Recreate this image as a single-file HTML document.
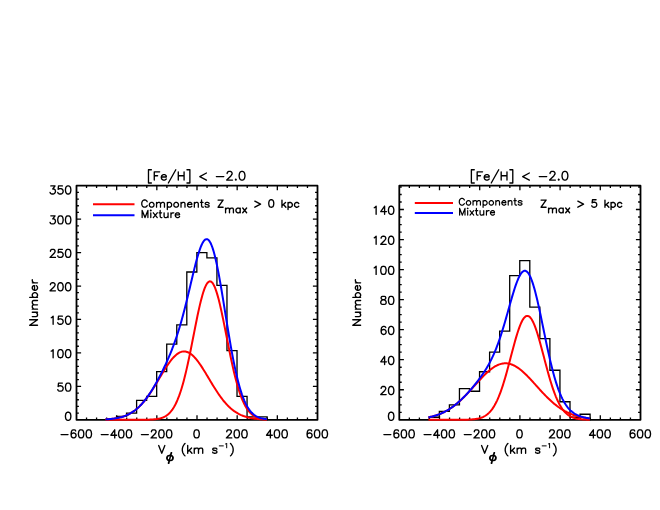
<!DOCTYPE html>
<html><head><meta charset="utf-8"><title>plot</title>
<style>html,body{margin:0;padding:0;background:#fff;font-family:"Liberation Sans",sans-serif}svg{display:block}</style>
</head><body>
<svg width="660" height="510" viewBox="0 0 660 510">
<rect width="660" height="510" fill="#fff"/>
<g fill="none" stroke="#000" stroke-linecap="round" stroke-linejoin="round">
<path d="M86.54 419.8V417.4 M86.54 185.7V188.1 M96.58 419.8V417.4 M96.58 185.7V188.1 M106.62 419.8V417.4 M106.62 185.7V188.1 M116.67 419.8V415.2 M116.67 185.7V190.3 M126.71 419.8V417.4 M126.71 185.7V188.1 M136.75 419.8V417.4 M136.75 185.7V188.1 M146.79 419.8V417.4 M146.79 185.7V188.1 M156.83 419.8V415.2 M156.83 185.7V190.3 M166.88 419.8V417.4 M166.88 185.7V188.1 M176.92 419.8V417.4 M176.92 185.7V188.1 M186.96 419.8V417.4 M186.96 185.7V188.1 M197 419.8V415.2 M197 185.7V190.3 M207.04 419.8V417.4 M207.04 185.7V188.1 M217.08 419.8V417.4 M217.08 185.7V188.1 M227.12 419.8V417.4 M227.12 185.7V188.1 M237.17 419.8V415.2 M237.17 185.7V190.3 M247.21 419.8V417.4 M247.21 185.7V188.1 M257.25 419.8V417.4 M257.25 185.7V188.1 M267.29 419.8V417.4 M267.29 185.7V188.1 M277.33 419.8V415.2 M277.33 185.7V190.3 M287.38 419.8V417.4 M287.38 185.7V188.1 M297.42 419.8V417.4 M297.42 185.7V188.1 M307.46 419.8V417.4 M307.46 185.7V188.1 M76.5 413.11H78.9 M317.5 413.11H315.1 M76.5 406.42H78.9 M317.5 406.42H315.1 M76.5 399.73H78.9 M317.5 399.73H315.1 M76.5 393.05H78.9 M317.5 393.05H315.1 M76.5 386.36H81.1 M317.5 386.36H312.9 M76.5 379.67H78.9 M317.5 379.67H315.1 M76.5 372.98H78.9 M317.5 372.98H315.1 M76.5 366.29H78.9 M317.5 366.29H315.1 M76.5 359.6H78.9 M317.5 359.6H315.1 M76.5 352.91H81.1 M317.5 352.91H312.9 M76.5 346.23H78.9 M317.5 346.23H315.1 M76.5 339.54H78.9 M317.5 339.54H315.1 M76.5 332.85H78.9 M317.5 332.85H315.1 M76.5 326.16H78.9 M317.5 326.16H315.1 M76.5 319.47H81.1 M317.5 319.47H312.9 M76.5 312.78H78.9 M317.5 312.78H315.1 M76.5 306.09H78.9 M317.5 306.09H315.1 M76.5 299.41H78.9 M317.5 299.41H315.1 M76.5 292.72H78.9 M317.5 292.72H315.1 M76.5 286.03H81.1 M317.5 286.03H312.9 M76.5 279.34H78.9 M317.5 279.34H315.1 M76.5 272.65H78.9 M317.5 272.65H315.1 M76.5 265.96H78.9 M317.5 265.96H315.1 M76.5 259.27H78.9 M317.5 259.27H315.1 M76.5 252.59H81.1 M317.5 252.59H312.9 M76.5 245.9H78.9 M317.5 245.9H315.1 M76.5 239.21H78.9 M317.5 239.21H315.1 M76.5 232.52H78.9 M317.5 232.52H315.1 M76.5 225.83H78.9 M317.5 225.83H315.1 M76.5 219.14H81.1 M317.5 219.14H312.9 M76.5 212.45H78.9 M317.5 212.45H315.1 M76.5 205.77H78.9 M317.5 205.77H315.1 M76.5 199.08H78.9 M317.5 199.08H315.1 M76.5 192.39H78.9 M317.5 192.39H315.1" stroke-width="1.3" stroke-linecap="butt"/>
<rect x="76.5" y="185.7" width="241" height="234.1" stroke-width="1.8"/>
<path d="M106.47 419.8 L106.47 419.13 L116.52 419.13 L116.52 416.46 L126.56 416.46 L126.56 413.11 L136.6 413.11 L136.6 400.4 L146.64 400.4 L146.64 396.39 L156.68 396.39 L156.68 371.64 L166.72 371.64 L166.72 344.22 L176.77 344.22 L176.77 324.82 L186.81 324.82 L186.81 271.98 L196.85 271.98 L196.85 252.59 L206.89 252.59 L206.89 257.94 L216.93 257.94 L216.93 285.36 L226.97 285.36 L226.97 350.57 L237.02 350.57 L237.02 396.39 L247.06 396.39 L247.06 416.79 L257.1 416.79 L257.1 416.79 L267.14 416.79 L267.14 419.8" stroke-width="1.3" stroke-linejoin="miter"/>
<path d="M105.62 419.36 L106.43 419.31 L107.23 419.26 L108.04 419.2 L108.85 419.14 L109.65 419.07 L110.46 418.99 L111.27 418.91 L112.07 418.82 L112.88 418.72 L113.68 418.62 L114.49 418.5 L115.3 418.38 L116.1 418.24 L116.91 418.1 L117.72 417.94 L118.52 417.77 L119.33 417.59 L120.14 417.39 L120.94 417.18 L121.75 416.96 L122.55 416.72 L123.36 416.46 L124.17 416.18 L124.97 415.88 L125.78 415.57 L126.59 415.23 L127.39 414.87 L128.2 414.49 L129 414.09 L129.81 413.66 L130.62 413.21 L131.42 412.73 L132.23 412.23 L133.04 411.69 L133.84 411.13 L134.65 410.54 L135.46 409.92 L136.26 409.27 L137.07 408.59 L137.87 407.88 L138.68 407.14 L139.49 406.37 L140.29 405.56 L141.1 404.72 L141.91 403.85 L142.71 402.94 L143.52 402 L144.33 401.04 L145.13 400.03 L145.94 399 L146.74 397.94 L147.55 396.85 L148.36 395.73 L149.16 394.58 L149.97 393.4 L150.78 392.2 L151.58 390.98 L152.39 389.73 L153.2 388.46 L154 387.17 L154.81 385.87 L155.61 384.55 L156.42 383.22 L157.23 381.88 L158.03 380.54 L158.84 379.19 L159.65 377.83 L160.45 376.48 L161.26 375.13 L162.07 373.79 L162.87 372.46 L163.68 371.14 L164.48 369.84 L165.29 368.56 L166.1 367.3 L166.9 366.07 L167.71 364.87 L168.52 363.7 L169.32 362.57 L170.13 361.48 L170.93 360.42 L171.74 359.42 L172.55 358.46 L173.35 357.56 L174.16 356.7 L174.97 355.91 L175.77 355.17 L176.58 354.5 L177.39 353.88 L178.19 353.34 L179 352.86 L179.8 352.44 L180.61 352.1 L181.42 351.83 L182.22 351.63 L183.03 351.5 L183.84 351.45 L184.64 351.46 L185.45 351.55 L186.26 351.72 L187.06 351.95 L187.87 352.26 L188.67 352.63 L189.48 353.08 L190.29 353.59 L191.09 354.17 L191.9 354.81 L192.71 355.52 L193.51 356.28 L194.32 357.11 L195.13 357.98 L195.93 358.91 L196.74 359.89 L197.54 360.92 L198.35 361.99 L199.16 363.11 L199.96 364.26 L200.77 365.44 L201.58 366.66 L202.38 367.9 L203.19 369.17 L204 370.46 L204.8 371.77 L205.61 373.1 L206.41 374.43 L207.22 375.78 L208.03 377.13 L208.83 378.48 L209.64 379.83 L210.45 381.18 L211.25 382.53 L212.06 383.86 L212.86 385.19 L213.67 386.5 L214.48 387.79 L215.28 389.07 L216.09 390.33 L216.9 391.57 L217.7 392.78 L218.51 393.97 L219.32 395.13 L220.12 396.27 L220.93 397.38 L221.73 398.45 L222.54 399.5 L223.35 400.52 L224.15 401.5 L224.96 402.46 L225.77 403.38 L226.57 404.27 L227.38 405.12 L228.19 405.95 L228.99 406.74 L229.8 407.5 L230.6 408.23 L231.41 408.92 L232.22 409.59 L233.02 410.22 L233.83 410.83 L234.64 411.4 L235.44 411.95 L236.25 412.47 L237.06 412.96 L237.86 413.43 L238.67 413.87 L239.47 414.29 L240.28 414.68 L241.09 415.05 L241.89 415.39 L242.7 415.72 L243.51 416.03 L244.31 416.31 L245.12 416.58 L245.93 416.83 L246.73 417.07 L247.54 417.29 L248.34 417.49 L249.15 417.68 L249.96 417.86 L250.76 418.02 L251.57 418.17 L252.38 418.31 L253.18 418.44 L253.99 418.56 L254.79 418.67 L255.6 418.77 L256.41 418.86 L257.21 418.95 L258.02 419.03 L258.83 419.1 L259.63 419.17 L260.44 419.23 L261.25 419.28 L262.05 419.33 L262.86 419.38 L263.66 419.42 L264.47 419.46 L265.28 419.49 L266.08 419.52 L266.89 419.55" stroke="#f00" stroke-width="2" stroke-linecap="butt"/>
<path d="M105.62 419.8 L106.43 419.8 L107.23 419.8 L108.04 419.8 L108.85 419.8 L109.65 419.8 L110.46 419.8 L111.27 419.8 L112.07 419.8 L112.88 419.8 L113.68 419.8 L114.49 419.8 L115.3 419.8 L116.1 419.8 L116.91 419.8 L117.72 419.8 L118.52 419.8 L119.33 419.8 L120.14 419.8 L120.94 419.8 L121.75 419.8 L122.55 419.8 L123.36 419.8 L124.17 419.8 L124.97 419.8 L125.78 419.8 L126.59 419.8 L127.39 419.8 L128.2 419.8 L129 419.8 L129.81 419.8 L130.62 419.8 L131.42 419.8 L132.23 419.8 L133.04 419.8 L133.84 419.8 L134.65 419.8 L135.46 419.8 L136.26 419.79 L137.07 419.79 L137.87 419.79 L138.68 419.79 L139.49 419.79 L140.29 419.78 L141.1 419.78 L141.91 419.77 L142.71 419.77 L143.52 419.76 L144.33 419.75 L145.13 419.74 L145.94 419.73 L146.74 419.71 L147.55 419.69 L148.36 419.67 L149.16 419.65 L149.97 419.62 L150.78 419.58 L151.58 419.54 L152.39 419.49 L153.2 419.44 L154 419.37 L154.81 419.29 L155.61 419.2 L156.42 419.1 L157.23 418.98 L158.03 418.84 L158.84 418.68 L159.65 418.5 L160.45 418.29 L161.26 418.05 L162.07 417.78 L162.87 417.48 L163.68 417.13 L164.48 416.74 L165.29 416.3 L166.1 415.81 L166.9 415.26 L167.71 414.64 L168.52 413.96 L169.32 413.2 L170.13 412.36 L170.93 411.44 L171.74 410.42 L172.55 409.3 L173.35 408.08 L174.16 406.75 L174.97 405.31 L175.77 403.74 L176.58 402.04 L177.39 400.21 L178.19 398.24 L179 396.14 L179.8 393.89 L180.61 391.49 L181.42 388.95 L182.22 386.26 L183.03 383.42 L183.84 380.43 L184.64 377.3 L185.45 374.04 L186.26 370.64 L187.06 367.11 L187.87 363.47 L188.67 359.72 L189.48 355.87 L190.29 351.94 L191.09 347.94 L191.9 343.88 L192.71 339.79 L193.51 335.69 L194.32 331.58 L195.13 327.49 L195.93 323.45 L196.74 319.46 L197.54 315.57 L198.35 311.78 L199.16 308.12 L199.96 304.62 L200.77 301.29 L201.58 298.15 L202.38 295.23 L203.19 292.55 L204 290.12 L204.8 287.96 L205.61 286.08 L206.41 284.51 L207.22 283.24 L208.03 282.29 L208.83 281.67 L209.64 281.37 L210.45 281.41 L211.25 281.78 L212.06 282.47 L212.86 283.49 L213.67 284.83 L214.48 286.47 L215.28 288.41 L216.09 290.63 L216.9 293.12 L217.7 295.86 L218.51 298.82 L219.32 302 L220.12 305.38 L220.93 308.92 L221.73 312.6 L222.54 316.42 L223.35 320.33 L224.15 324.33 L224.96 328.39 L225.77 332.48 L226.57 336.59 L227.38 340.7 L228.19 344.78 L228.99 348.83 L229.8 352.81 L230.6 356.73 L231.41 360.55 L232.22 364.28 L233.02 367.9 L233.83 371.4 L234.64 374.77 L235.44 378 L236.25 381.1 L237.06 384.05 L237.86 386.86 L238.67 389.52 L239.47 392.03 L240.28 394.4 L241.09 396.61 L241.89 398.69 L242.7 400.62 L243.51 402.42 L244.31 404.09 L245.12 405.64 L245.93 407.06 L246.73 408.36 L247.54 409.56 L248.34 410.65 L249.15 411.65 L249.96 412.56 L250.76 413.38 L251.57 414.12 L252.38 414.78 L253.18 415.38 L253.99 415.92 L254.79 416.4 L255.6 416.83 L256.41 417.21 L257.21 417.55 L258.02 417.84 L258.83 418.11 L259.63 418.34 L260.44 418.54 L261.25 418.72 L262.05 418.87 L262.86 419.01 L263.66 419.12 L264.47 419.22 L265.28 419.31 L266.08 419.38 L266.89 419.45" stroke="#f00" stroke-width="2" stroke-linecap="butt"/>
<path d="M105.62 419.36 L106.43 419.31 L107.23 419.26 L108.04 419.2 L108.85 419.14 L109.65 419.07 L110.46 418.99 L111.27 418.91 L112.07 418.82 L112.88 418.72 L113.68 418.62 L114.49 418.5 L115.3 418.38 L116.1 418.24 L116.91 418.1 L117.72 417.94 L118.52 417.77 L119.33 417.59 L120.14 417.39 L120.94 417.18 L121.75 416.96 L122.55 416.72 L123.36 416.46 L124.17 416.18 L124.97 415.88 L125.78 415.57 L126.59 415.23 L127.39 414.87 L128.2 414.49 L129 414.09 L129.81 413.66 L130.62 413.21 L131.42 412.73 L132.23 412.22 L133.04 411.69 L133.84 411.13 L134.65 410.54 L135.46 409.92 L136.26 409.27 L137.07 408.59 L137.87 407.87 L138.68 407.13 L139.49 406.35 L140.29 405.54 L141.1 404.7 L141.91 403.82 L142.71 402.91 L143.52 401.96 L144.33 400.99 L145.13 399.97 L145.94 398.93 L146.74 397.85 L147.55 396.74 L148.36 395.6 L149.16 394.43 L149.97 393.22 L150.78 391.98 L151.58 390.72 L152.39 389.42 L153.2 388.1 L154 386.74 L154.81 385.36 L155.61 383.95 L156.42 382.52 L157.23 381.06 L158.03 379.58 L158.84 378.06 L159.65 376.53 L160.45 374.97 L161.26 373.38 L162.07 371.77 L162.87 370.14 L163.68 368.47 L164.48 366.78 L165.29 365.06 L166.1 363.31 L166.9 361.53 L167.71 359.71 L168.52 357.86 L169.32 355.97 L170.13 354.04 L170.93 352.06 L171.74 350.04 L172.55 347.97 L173.35 345.84 L174.16 343.66 L174.97 341.41 L175.77 339.11 L176.58 336.73 L177.39 334.29 L178.19 331.78 L179 329.19 L179.8 326.53 L180.61 323.79 L181.42 320.98 L182.22 318.08 L183.03 315.12 L183.84 312.08 L184.64 308.97 L185.45 305.79 L186.26 302.55 L187.06 299.26 L187.87 295.92 L188.67 292.55 L189.48 289.15 L190.29 285.73 L191.09 282.31 L191.9 278.9 L192.71 275.51 L193.51 272.17 L194.32 268.88 L195.13 265.67 L195.93 262.56 L196.74 259.56 L197.54 256.69 L198.35 253.97 L199.16 251.43 L199.96 249.07 L200.77 246.93 L201.58 245.01 L202.38 243.34 L203.19 241.92 L204 240.78 L204.8 239.93 L205.61 239.38 L206.41 239.14 L207.22 239.22 L208.03 239.62 L208.83 240.35 L209.64 241.41 L210.45 242.79 L211.25 244.5 L212.06 246.54 L212.86 248.88 L213.67 251.53 L214.48 254.47 L215.28 257.68 L216.09 261.16 L216.9 264.89 L217.7 268.84 L218.51 272.99 L219.32 277.34 L220.12 281.84 L220.93 286.49 L221.73 291.26 L222.54 296.12 L223.35 301.05 L224.15 306.04 L224.96 311.05 L225.77 316.06 L226.57 321.06 L227.38 326.02 L228.19 330.93 L228.99 335.77 L229.8 340.51 L230.6 345.15 L231.41 349.68 L232.22 354.07 L233.02 358.32 L233.83 362.43 L234.64 366.37 L235.44 370.16 L236.25 373.77 L237.06 377.22 L237.86 380.49 L238.67 383.59 L239.47 386.52 L240.28 389.27 L241.09 391.86 L241.89 394.28 L242.7 396.55 L243.51 398.65 L244.31 400.61 L245.12 402.42 L245.93 404.09 L246.73 405.63 L247.54 407.05 L248.34 408.34 L249.15 409.53 L249.96 410.61 L250.76 411.59 L251.57 412.49 L252.38 413.29 L253.18 414.02 L253.99 414.68 L254.79 415.27 L255.6 415.8 L256.41 416.27 L257.21 416.7 L258.02 417.07 L258.83 417.41 L259.63 417.7 L260.44 417.97 L261.25 418.2 L262.05 418.4 L262.86 418.58 L263.66 418.74 L264.47 418.88 L265.28 419 L266.08 419.11 L266.89 419.2" stroke="#00f" stroke-width="2" stroke-linecap="butt"/>
<path d="M61.08 434.61 L68.02 434.61 M75.71 430.97 L75.33 430.2 L74.17 429.81 L73.4 429.81 L72.25 430.2 L71.48 431.35 L71.09 433.28 L71.09 435.2 L71.48 436.75 L72.25 437.51 L73.4 437.9 L73.79 437.9 L74.94 437.51 L75.71 436.75 L76.1 435.59 L76.1 435.2 L75.71 434.05 L74.94 433.28 L73.79 432.89 L73.4 432.89 L72.25 433.28 L71.48 434.05 L71.09 435.2 M80.72 429.81 L79.56 430.2 L78.8 431.35 L78.41 433.28 L78.41 434.44 L78.8 436.36 L79.56 437.51 L80.72 437.9 L81.49 437.9 L82.64 437.51 L83.41 436.36 L83.8 434.44 L83.8 433.28 L83.41 431.35 L82.64 430.2 L81.49 429.81 L80.72 429.81 M88.42 429.81 L87.27 430.2 L86.5 431.35 L86.11 433.28 L86.11 434.44 L86.5 436.36 L87.27 437.51 L88.42 437.9 L89.19 437.9 L90.34 437.51 L91.11 436.36 L91.5 434.44 L91.5 433.28 L91.11 431.35 L90.34 430.2 L89.19 429.81 L88.42 429.81" stroke-width="1.35"/>
<path d="M101.25 434.61 L108.18 434.61 M114.73 429.81 L110.88 435.2 L116.65 435.2 M114.73 429.81 L114.73 437.9 M120.89 429.81 L119.73 430.2 L118.96 431.35 L118.58 433.28 L118.58 434.44 L118.96 436.36 L119.73 437.51 L120.89 437.9 L121.66 437.9 L122.81 437.51 L123.58 436.36 L123.97 434.44 L123.97 433.28 L123.58 431.35 L122.81 430.2 L121.66 429.81 L120.89 429.81 M128.59 429.81 L127.43 430.2 L126.66 431.35 L126.28 433.28 L126.28 434.44 L126.66 436.36 L127.43 437.51 L128.59 437.9 L129.36 437.9 L130.51 437.51 L131.28 436.36 L131.67 434.44 L131.67 433.28 L131.28 431.35 L130.51 430.2 L129.36 429.81 L128.59 429.81" stroke-width="1.35"/>
<path d="M141.42 434.61 L148.35 434.61 M151.43 431.74 L151.43 431.35 L151.81 430.58 L152.2 430.2 L152.97 429.81 L154.51 429.81 L155.28 430.2 L155.66 430.58 L156.05 431.35 L156.05 432.12 L155.66 432.89 L154.89 434.05 L151.04 437.9 L156.43 437.9 M161.05 429.81 L159.9 430.2 L159.13 431.35 L158.74 433.28 L158.74 434.44 L159.13 436.36 L159.9 437.51 L161.05 437.9 L161.82 437.9 L162.98 437.51 L163.75 436.36 L164.13 434.44 L164.13 433.28 L163.75 431.35 L162.98 430.2 L161.82 429.81 L161.05 429.81 M168.75 429.81 L167.6 430.2 L166.83 431.35 L166.44 433.28 L166.44 434.44 L166.83 436.36 L167.6 437.51 L168.75 437.9 L169.52 437.9 L170.68 437.51 L171.45 436.36 L171.83 434.44 L171.83 433.28 L171.45 431.35 L170.68 430.2 L169.52 429.81 L168.75 429.81" stroke-width="1.35"/>
<path d="M196.22 429.81 L195.06 430.2 L194.29 431.35 L193.91 433.28 L193.91 434.44 L194.29 436.36 L195.06 437.51 L196.22 437.9 L196.99 437.9 L198.14 437.51 L198.91 436.36 L199.29 434.44 L199.29 433.28 L198.91 431.35 L198.14 430.2 L196.99 429.81 L196.22 429.81" stroke-width="1.35"/>
<path d="M226.76 431.74 L226.76 431.35 L227.14 430.58 L227.53 430.2 L228.3 429.81 L229.84 429.81 L230.61 430.2 L230.99 430.58 L231.38 431.35 L231.38 432.12 L230.99 432.89 L230.22 434.05 L226.37 437.9 L231.76 437.9 M236.38 429.81 L235.23 430.2 L234.46 431.35 L234.07 433.28 L234.07 434.44 L234.46 436.36 L235.23 437.51 L236.38 437.9 L237.15 437.9 L238.31 437.51 L239.08 436.36 L239.46 434.44 L239.46 433.28 L239.08 431.35 L238.31 430.2 L237.15 429.81 L236.38 429.81 M244.08 429.81 L242.93 430.2 L242.16 431.35 L241.77 433.28 L241.77 434.44 L242.16 436.36 L242.93 437.51 L244.08 437.9 L244.85 437.9 L246.01 437.51 L246.78 436.36 L247.16 434.44 L247.16 433.28 L246.78 431.35 L246.01 430.2 L244.85 429.81 L244.08 429.81" stroke-width="1.35"/>
<path d="M270.39 429.81 L266.54 435.2 L272.31 435.2 M270.39 429.81 L270.39 437.9 M276.55 429.81 L275.39 430.2 L274.62 431.35 L274.24 433.28 L274.24 434.44 L274.62 436.36 L275.39 437.51 L276.55 437.9 L277.32 437.9 L278.47 437.51 L279.24 436.36 L279.63 434.44 L279.63 433.28 L279.24 431.35 L278.47 430.2 L277.32 429.81 L276.55 429.81 M284.25 429.81 L283.09 430.2 L282.32 431.35 L281.94 433.28 L281.94 434.44 L282.32 436.36 L283.09 437.51 L284.25 437.9 L285.02 437.9 L286.17 437.51 L286.94 436.36 L287.33 434.44 L287.33 433.28 L286.94 431.35 L286.17 430.2 L285.02 429.81 L284.25 429.81" stroke-width="1.35"/>
<path d="M311.71 430.97 L311.32 430.2 L310.17 429.81 L309.4 429.81 L308.25 430.2 L307.48 431.35 L307.09 433.28 L307.09 435.2 L307.48 436.75 L308.25 437.51 L309.4 437.9 L309.79 437.9 L310.94 437.51 L311.71 436.75 L312.1 435.59 L312.1 435.2 L311.71 434.05 L310.94 433.28 L309.79 432.89 L309.4 432.89 L308.25 433.28 L307.48 434.05 L307.09 435.2 M316.71 429.81 L315.56 430.2 L314.79 431.35 L314.4 433.28 L314.4 434.44 L314.79 436.36 L315.56 437.51 L316.71 437.9 L317.49 437.9 L318.64 437.51 L319.41 436.36 L319.8 434.44 L319.8 433.28 L319.41 431.35 L318.64 430.2 L317.49 429.81 L316.71 429.81 M324.41 429.81 L323.26 430.2 L322.49 431.35 L322.1 433.28 L322.1 434.44 L322.49 436.36 L323.26 437.51 L324.41 437.9 L325.19 437.9 L326.34 437.51 L327.11 436.36 L327.5 434.44 L327.5 433.28 L327.11 431.35 L326.34 430.2 L325.19 429.81 L324.41 429.81" stroke-width="1.35"/>
<path d="M67.77 412.22 L66.61 412.6 L65.84 413.75 L65.45 415.68 L65.45 416.84 L65.84 418.76 L66.61 419.92 L67.77 420.3 L68.53 420.3 L69.69 419.92 L70.46 418.76 L70.84 416.84 L70.84 415.68 L70.46 413.75 L69.69 412.6 L68.53 412.22 L67.77 412.22" stroke-width="1.35"/>
<path d="M62.38 383.07 L58.52 383.07 L58.14 386.54 L58.52 386.15 L59.68 385.77 L60.84 385.77 L61.99 386.15 L62.76 386.92 L63.15 388.08 L63.15 388.85 L62.76 390 L61.99 390.77 L60.84 391.16 L59.68 391.16 L58.52 390.77 L58.14 390.39 L57.76 389.62 M67.77 383.07 L66.61 383.46 L65.84 384.61 L65.45 386.54 L65.45 387.69 L65.84 389.62 L66.61 390.77 L67.77 391.16 L68.53 391.16 L69.69 390.77 L70.46 389.62 L70.84 387.69 L70.84 386.54 L70.46 384.61 L69.69 383.46 L68.53 383.07 L67.77 383.07" stroke-width="1.35"/>
<path d="M51.21 351.17 L51.98 350.78 L53.13 349.63 L53.13 357.71 M60.06 349.63 L58.91 350.01 L58.14 351.17 L57.76 353.09 L57.76 354.25 L58.14 356.17 L58.91 357.33 L60.06 357.71 L60.84 357.71 L61.99 357.33 L62.76 356.17 L63.15 354.25 L63.15 353.09 L62.76 351.17 L61.99 350.01 L60.84 349.63 L60.06 349.63 M67.77 349.63 L66.61 350.01 L65.84 351.17 L65.45 353.09 L65.45 354.25 L65.84 356.17 L66.61 357.33 L67.77 357.71 L68.53 357.71 L69.69 357.33 L70.46 356.17 L70.84 354.25 L70.84 353.09 L70.46 351.17 L69.69 350.01 L68.53 349.63 L67.77 349.63" stroke-width="1.35"/>
<path d="M51.21 317.73 L51.98 317.34 L53.13 316.19 L53.13 324.27 M62.38 316.19 L58.52 316.19 L58.14 319.65 L58.52 319.27 L59.68 318.88 L60.84 318.88 L61.99 319.27 L62.76 320.04 L63.15 321.19 L63.15 321.96 L62.76 323.12 L61.99 323.89 L60.84 324.27 L59.68 324.27 L58.52 323.89 L58.14 323.5 L57.76 322.73 M67.77 316.19 L66.61 316.57 L65.84 317.73 L65.45 319.65 L65.45 320.81 L65.84 322.73 L66.61 323.89 L67.77 324.27 L68.53 324.27 L69.69 323.89 L70.46 322.73 L70.84 320.81 L70.84 319.65 L70.46 317.73 L69.69 316.57 L68.53 316.19 L67.77 316.19" stroke-width="1.35"/>
<path d="M50.44 284.67 L50.44 284.28 L50.82 283.51 L51.21 283.13 L51.98 282.74 L53.52 282.74 L54.29 283.13 L54.67 283.51 L55.06 284.28 L55.06 285.05 L54.67 285.82 L53.91 286.98 L50.05 290.83 L55.45 290.83 M60.06 282.74 L58.91 283.13 L58.14 284.28 L57.76 286.21 L57.76 287.36 L58.14 289.29 L58.91 290.44 L60.06 290.83 L60.84 290.83 L61.99 290.44 L62.76 289.29 L63.15 287.36 L63.15 286.21 L62.76 284.28 L61.99 283.13 L60.84 282.74 L60.06 282.74 M67.77 282.74 L66.61 283.13 L65.84 284.28 L65.45 286.21 L65.45 287.36 L65.84 289.29 L66.61 290.44 L67.77 290.83 L68.53 290.83 L69.69 290.44 L70.46 289.29 L70.84 287.36 L70.84 286.21 L70.46 284.28 L69.69 283.13 L68.53 282.74 L67.77 282.74" stroke-width="1.35"/>
<path d="M50.44 251.23 L50.44 250.84 L50.82 250.07 L51.21 249.69 L51.98 249.3 L53.52 249.3 L54.29 249.69 L54.67 250.07 L55.06 250.84 L55.06 251.61 L54.67 252.38 L53.91 253.54 L50.05 257.39 L55.45 257.39 M62.38 249.3 L58.52 249.3 L58.14 252.77 L58.52 252.38 L59.68 252 L60.84 252 L61.99 252.38 L62.76 253.15 L63.15 254.31 L63.15 255.08 L62.76 256.23 L61.99 257 L60.84 257.39 L59.68 257.39 L58.52 257 L58.14 256.62 L57.76 255.85 M67.77 249.3 L66.61 249.69 L65.84 250.84 L65.45 252.77 L65.45 253.92 L65.84 255.85 L66.61 257 L67.77 257.39 L68.53 257.39 L69.69 257 L70.46 255.85 L70.84 253.92 L70.84 252.77 L70.46 250.84 L69.69 249.69 L68.53 249.3 L67.77 249.3" stroke-width="1.35"/>
<path d="M50.82 215.86 L55.06 215.86 L52.75 218.94 L53.91 218.94 L54.67 219.32 L55.06 219.71 L55.45 220.86 L55.45 221.63 L55.06 222.79 L54.29 223.56 L53.13 223.94 L51.98 223.94 L50.82 223.56 L50.44 223.17 L50.05 222.4 M60.06 215.86 L58.91 216.24 L58.14 217.4 L57.76 219.32 L57.76 220.48 L58.14 222.4 L58.91 223.56 L60.06 223.94 L60.84 223.94 L61.99 223.56 L62.76 222.4 L63.15 220.48 L63.15 219.32 L62.76 217.4 L61.99 216.24 L60.84 215.86 L60.06 215.86 M67.77 215.86 L66.61 216.24 L65.84 217.4 L65.45 219.32 L65.45 220.48 L65.84 222.4 L66.61 223.56 L67.77 223.94 L68.53 223.94 L69.69 223.56 L70.46 222.4 L70.84 220.48 L70.84 219.32 L70.46 217.4 L69.69 216.24 L68.53 215.86 L67.77 215.86" stroke-width="1.35"/>
<path d="M50.82 185.91 L55.06 185.91 L52.75 189 L53.91 189 L54.67 189.38 L55.06 189.76 L55.45 190.92 L55.45 191.69 L55.06 192.84 L54.29 193.62 L53.13 194 L51.98 194 L50.82 193.62 L50.44 193.23 L50.05 192.46 M62.38 185.91 L58.52 185.91 L58.14 189.38 L58.52 189 L59.68 188.61 L60.84 188.61 L61.99 189 L62.76 189.76 L63.15 190.92 L63.15 191.69 L62.76 192.84 L61.99 193.62 L60.84 194 L59.68 194 L58.52 193.62 L58.14 193.23 L57.76 192.46 M67.77 185.91 L66.61 186.3 L65.84 187.46 L65.45 189.38 L65.45 190.53 L65.84 192.46 L66.61 193.62 L67.77 194 L68.53 194 L69.69 193.62 L70.46 192.46 L70.84 190.53 L70.84 189.38 L70.46 187.46 L69.69 186.3 L68.53 185.91 L67.77 185.91" stroke-width="1.35"/>
<path d="M148.48 169.75 L148.48 183 M148.48 169.75 L151.37 169.75 M148.48 183 L151.37 183 M154.27 171.84 L154.27 180.1 M154.27 171.84 L159.65 171.84 M154.27 175.77 L157.58 175.77 M161.31 176.95 L166.28 176.95 L166.28 176.17 L165.86 175.38 L165.45 174.99 L164.62 174.59 L163.38 174.59 L162.55 174.99 L161.72 175.77 L161.31 176.95 L161.31 177.74 L161.72 178.92 L162.55 179.71 L163.38 180.1 L164.62 180.1 L165.45 179.71 L166.28 178.92 M175.8 169.75 L168.35 183 M178.28 171.84 L178.28 180.1 M184.08 171.84 L184.08 180.1 M178.28 175.77 L184.08 175.77 M189.88 169.75 L189.88 183 M186.98 169.75 L189.88 169.75 M186.98 183 L189.88 183 M206.44 173.02 L199.81 176.56 L206.44 180.1 M216.37 176.56 L223.82 176.56 M227.14 173.48 L227.14 173.06 L227.55 172.23 L227.96 171.82 L228.79 171.41 L230.45 171.41 L231.28 171.82 L231.69 172.23 L232.1 173.06 L232.1 173.89 L231.69 174.72 L230.86 175.96 L226.72 180.1 L232.52 180.1 M235.83 179.31 L235.42 179.71 L235.83 180.1 L236.24 179.71 L235.83 179.31 M241.63 171.41 L240.38 171.82 L239.56 173.06 L239.14 175.13 L239.14 176.37 L239.56 178.44 L240.38 179.69 L241.63 180.1 L242.45 180.1 L243.7 179.69 L244.52 178.44 L244.94 176.37 L244.94 175.13 L244.52 173.06 L243.7 171.82 L242.45 171.41 L241.63 171.41" stroke-width="1.35"/>
<path d="M29.68 325.2 L37.5 325.2 M29.68 325.2 L37.5 319.71 M29.68 319.71 L37.5 319.71 M32.29 316.57 L36.01 316.57 L37.13 316.18 L37.5 315.4 L37.5 314.22 L37.13 313.44 L36.01 312.26 M32.29 312.26 L37.5 312.26 M32.29 309.13 L37.5 309.13 M33.78 309.13 L32.66 307.95 L32.29 307.17 L32.29 305.99 L32.66 305.21 L33.78 304.81 L37.5 304.81 M33.78 304.81 L32.66 303.64 L32.29 302.85 L32.29 301.68 L32.66 300.89 L33.78 300.5 L37.5 300.5 M29.68 297.37 L37.5 297.37 M33.4 297.37 L32.66 296.58 L32.29 295.8 L32.29 294.62 L32.66 293.84 L33.4 293.05 L34.52 292.66 L35.27 292.66 L36.38 293.05 L37.13 293.84 L37.5 294.62 L37.5 295.8 L37.13 296.58 L36.38 297.37 M34.52 290.31 L34.52 285.61 L33.78 285.61 L33.03 286 L32.66 286.39 L32.29 287.17 L32.29 288.35 L32.66 289.13 L33.4 289.92 L34.52 290.31 L35.27 290.31 L36.38 289.92 L37.13 289.13 L37.5 288.35 L37.5 287.17 L37.13 286.39 L36.38 285.61 M32.29 282.86 L37.5 282.86 M34.52 282.86 L33.4 282.47 L32.66 281.69 L32.29 280.9 L32.29 279.73" stroke-width="1.35"/>
<path d="M158.69 445.52 L161.77 453.2 M164.84 445.52 L161.77 453.2" stroke-width="1.35"/>
<path d="M171.16 452.72 L168.79 463.23 M171.56 452.72 L168.4 463.23 M169.58 455.35 L168 455.72 L167.21 456.47 L166.82 457.6 L166.82 458.72 L167.21 459.47 L168 460.22 L169.19 460.6 L170.37 460.6 L171.95 460.22 L172.74 459.47 L173.14 458.35 L173.14 457.22 L172.74 456.47 L171.95 455.72 L170.77 455.35 L169.58 455.35 M169.58 455.35 L168.4 455.72 L167.61 456.47 L167.21 457.6 L167.21 458.72 L167.61 459.47 L168.4 460.22 L169.19 460.6 M170.37 460.6 L171.56 460.22 L172.35 459.47 L172.74 458.35 L172.74 457.22 L172.35 456.47 L171.56 455.72 L170.77 455.35" stroke-width="1.45"/>
<path d="M185.02 443.57 L184.25 444.34 L183.48 445.5 L182.71 447.04 L182.32 448.96 L182.32 450.5 L182.71 452.43 L183.48 453.97 L184.25 455.12 L185.02 455.89 M187.71 445.52 L187.71 453.2 M191.56 448.08 L187.71 451.74 M189.25 450.27 L191.95 453.2 M194.25 448.08 L194.25 453.2 M194.25 449.54 L195.41 448.45 L196.18 448.08 L197.34 448.08 L198.11 448.45 L198.49 449.54 L198.49 453.2 M198.49 449.54 L199.65 448.45 L200.41 448.08 L201.57 448.08 L202.34 448.45 L202.72 449.54 L202.72 453.2" stroke-width="1.35"/>
<path d="M216.92 449.18 L216.53 448.45 L215.38 448.08 L214.22 448.08 L213.07 448.45 L212.68 449.18 L213.07 449.91 L213.84 450.27 L215.76 450.64 L216.53 451.01 L216.92 451.74 L216.92 452.1 L216.53 452.83 L215.38 453.2 L214.22 453.2 L213.07 452.83 L212.68 452.1" stroke-width="1.35"/>
<path d="M219.27 445.88 L223.32 445.88 M225.57 443.98 L226.02 443.75 L226.7 443.07 L226.7 447.8" stroke-width="1"/>
<path d="M230.48 443.57 L231.25 444.34 L232.02 445.5 L232.79 447.04 L233.17 448.96 L233.17 450.5 L232.79 452.43 L232.02 453.97 L231.25 455.12 L230.48 455.89" stroke-width="1.35"/>
<path d="M93 204.3H134.5" stroke="#f00" stroke-width="2.1" stroke-linecap="butt"/>
<path d="M93 215.3H134.5" stroke="#00f" stroke-width="2.1" stroke-linecap="butt"/>
<path d="M147.18 201.73 L146.82 201.04 L146.1 200.36 L145.38 200.02 L143.94 200.02 L143.22 200.36 L142.5 201.04 L142.14 201.73 L141.78 202.75 L141.78 204.46 L142.14 205.49 L142.5 206.17 L143.22 206.86 L143.94 207.2 L145.38 207.2 L146.1 206.86 L146.82 206.17 L147.18 205.49 M151.14 202.41 L150.42 202.75 L149.7 203.44 L149.34 204.46 L149.34 205.15 L149.7 206.17 L150.42 206.86 L151.14 207.2 L152.22 207.2 L152.94 206.86 L153.66 206.17 L154.02 205.15 L154.02 204.46 L153.66 203.44 L152.94 202.75 L152.22 202.41 L151.14 202.41 M156.54 202.41 L156.54 207.2 M156.54 203.78 L157.62 202.75 L158.34 202.41 L159.42 202.41 L160.14 202.75 L160.5 203.78 L160.5 207.2 M160.5 203.78 L161.58 202.75 L162.3 202.41 L163.38 202.41 L164.1 202.75 L164.46 203.78 L164.46 207.2 M167.34 202.41 L167.34 209.59 M167.34 203.44 L168.06 202.75 L168.78 202.41 L169.86 202.41 L170.58 202.75 L171.3 203.44 L171.66 204.46 L171.66 205.15 L171.3 206.17 L170.58 206.86 L169.86 207.2 L168.78 207.2 L168.06 206.86 L167.34 206.17 M175.62 202.41 L174.9 202.75 L174.18 203.44 L173.82 204.46 L173.82 205.15 L174.18 206.17 L174.9 206.86 L175.62 207.2 L176.7 207.2 L177.42 206.86 L178.14 206.17 L178.5 205.15 L178.5 204.46 L178.14 203.44 L177.42 202.75 L176.7 202.41 L175.62 202.41 M181.02 202.41 L181.02 207.2 M181.02 203.78 L182.1 202.75 L182.82 202.41 L183.9 202.41 L184.62 202.75 L184.98 203.78 L184.98 207.2 M187.5 204.46 L191.82 204.46 L191.82 203.78 L191.46 203.1 L191.1 202.75 L190.38 202.41 L189.3 202.41 L188.58 202.75 L187.86 203.44 L187.5 204.46 L187.5 205.15 L187.86 206.17 L188.58 206.86 L189.3 207.2 L190.38 207.2 L191.1 206.86 L191.82 206.17 M194.34 202.41 L194.34 207.2 M194.34 203.78 L195.42 202.75 L196.14 202.41 L197.22 202.41 L197.94 202.75 L198.3 203.78 L198.3 207.2 M201.54 200.02 L201.54 205.83 L201.9 206.86 L202.62 207.2 L203.34 207.2 M200.46 202.41 L202.98 202.41 M209.1 203.44 L208.74 202.75 L207.66 202.41 L206.58 202.41 L205.5 202.75 L205.14 203.44 L205.5 204.12 L206.22 204.46 L208.02 204.81 L208.74 205.15 L209.1 205.83 L209.1 206.17 L208.74 206.86 L207.66 207.2 L206.58 207.2 L205.5 206.86 L205.14 206.17" stroke-width="1.3"/>
<path d="M142.14 210.42 L142.14 217.6 M142.14 210.42 L145.02 217.6 M147.9 210.42 L145.02 217.6 M147.9 210.42 L147.9 217.6 M150.42 210.42 L150.78 210.76 L151.14 210.42 L150.78 210.08 L150.42 210.42 M150.78 212.81 L150.78 217.6 M153.3 212.81 L157.26 217.6 M157.26 212.81 L153.3 217.6 M160.14 210.42 L160.14 216.23 L160.5 217.26 L161.22 217.6 L161.94 217.6 M159.06 212.81 L161.58 212.81 M164.1 212.81 L164.1 216.23 L164.46 217.26 L165.18 217.6 L166.26 217.6 L166.98 217.26 L168.06 216.23 M168.06 212.81 L168.06 217.6 M170.94 212.81 L170.94 217.6 M170.94 214.86 L171.3 213.84 L172.02 213.15 L172.74 212.81 L173.82 212.81 M175.26 214.86 L179.58 214.86 L179.58 214.18 L179.22 213.5 L178.86 213.15 L178.14 212.81 L177.06 212.81 L176.34 213.15 L175.62 213.84 L175.26 214.86 L175.26 215.55 L175.62 216.57 L176.34 217.26 L177.06 217.6 L178.14 217.6 L178.86 217.26 L179.58 216.57" stroke-width="1.3"/>
<path d="M223.07 200.08 L218.07 207.2 M218.07 200.08 L223.07 200.08 M218.07 207.2 L223.07 207.2" stroke-width="1.35"/>
<path d="M225.57 208.05 L225.57 212.8 M225.57 209.41 L226.64 208.39 L227.35 208.05 L228.42 208.05 L229.14 208.39 L229.49 209.41 L229.49 212.8 M229.49 209.41 L230.57 208.39 L231.28 208.05 L232.35 208.05 L233.06 208.39 L233.42 209.41 L233.42 212.8 M240.2 208.05 L240.2 212.8 M240.2 209.07 L239.49 208.39 L238.78 208.05 L237.71 208.05 L236.99 208.39 L236.28 209.07 L235.92 210.09 L235.92 210.77 L236.28 211.78 L236.99 212.46 L237.71 212.8 L238.78 212.8 L239.49 212.46 L240.2 211.78 M242.7 208.05 L246.63 212.8 M246.63 208.05 L242.7 212.8" stroke-width="1.35"/>
<path d="M254.84 201.1 L260.55 204.15 L254.84 207.2 M270.91 199.7 L269.84 200.06 L269.12 201.13 L268.76 202.92 L268.76 203.99 L269.12 205.77 L269.84 206.84 L270.91 207.2 L271.62 207.2 L272.69 206.84 L273.41 205.77 L273.76 203.99 L273.76 202.92 L273.41 201.13 L272.69 200.06 L271.62 199.7 L270.91 199.7 M281.97 200.08 L281.97 207.2 M285.54 202.45 L281.97 205.84 M283.4 204.49 L285.9 207.2 M288.04 202.45 L288.04 209.57 M288.04 203.47 L288.76 202.79 L289.47 202.45 L290.54 202.45 L291.26 202.79 L291.97 203.47 L292.33 204.49 L292.33 205.17 L291.97 206.18 L291.26 206.86 L290.54 207.2 L289.47 207.2 L288.76 206.86 L288.04 206.18 M298.75 203.47 L298.04 202.79 L297.32 202.45 L296.25 202.45 L295.54 202.79 L294.83 203.47 L294.47 204.49 L294.47 205.17 L294.83 206.18 L295.54 206.86 L296.25 207.2 L297.32 207.2 L298.04 206.86 L298.75 206.18" stroke-width="1.35"/>
<path d="M409.35 419.8V417.4 M409.35 185.7V188.1 M419.4 419.8V417.4 M419.4 185.7V188.1 M429.45 419.8V417.4 M429.45 185.7V188.1 M439.5 419.8V415.2 M439.5 185.7V190.3 M449.55 419.8V417.4 M449.55 185.7V188.1 M459.6 419.8V417.4 M459.6 185.7V188.1 M469.65 419.8V417.4 M469.65 185.7V188.1 M479.7 419.8V415.2 M479.7 185.7V190.3 M489.75 419.8V417.4 M489.75 185.7V188.1 M499.8 419.8V417.4 M499.8 185.7V188.1 M509.85 419.8V417.4 M509.85 185.7V188.1 M519.9 419.8V415.2 M519.9 185.7V190.3 M529.95 419.8V417.4 M529.95 185.7V188.1 M540 419.8V417.4 M540 185.7V188.1 M550.05 419.8V417.4 M550.05 185.7V188.1 M560.1 419.8V415.2 M560.1 185.7V190.3 M570.15 419.8V417.4 M570.15 185.7V188.1 M580.2 419.8V417.4 M580.2 185.7V188.1 M590.25 419.8V417.4 M590.25 185.7V188.1 M600.3 419.8V415.2 M600.3 185.7V190.3 M610.35 419.8V417.4 M610.35 185.7V188.1 M620.4 419.8V417.4 M620.4 185.7V188.1 M630.45 419.8V417.4 M630.45 185.7V188.1 M399.3 412.29H401.7 M640.5 412.29H638.1 M399.3 404.78H401.7 M640.5 404.78H638.1 M399.3 397.27H401.7 M640.5 397.27H638.1 M399.3 389.76H403.9 M640.5 389.76H635.9 M399.3 382.25H401.7 M640.5 382.25H638.1 M399.3 374.74H401.7 M640.5 374.74H638.1 M399.3 367.23H401.7 M640.5 367.23H638.1 M399.3 359.72H403.9 M640.5 359.72H635.9 M399.3 352.21H401.7 M640.5 352.21H638.1 M399.3 344.7H401.7 M640.5 344.7H638.1 M399.3 337.19H401.7 M640.5 337.19H638.1 M399.3 329.67H403.9 M640.5 329.67H635.9 M399.3 322.16H401.7 M640.5 322.16H638.1 M399.3 314.65H401.7 M640.5 314.65H638.1 M399.3 307.14H401.7 M640.5 307.14H638.1 M399.3 299.63H403.9 M640.5 299.63H635.9 M399.3 292.12H401.7 M640.5 292.12H638.1 M399.3 284.61H401.7 M640.5 284.61H638.1 M399.3 277.1H401.7 M640.5 277.1H638.1 M399.3 269.59H403.9 M640.5 269.59H635.9 M399.3 262.08H401.7 M640.5 262.08H638.1 M399.3 254.57H401.7 M640.5 254.57H638.1 M399.3 247.06H401.7 M640.5 247.06H638.1 M399.3 239.55H403.9 M640.5 239.55H635.9 M399.3 232.04H401.7 M640.5 232.04H638.1 M399.3 224.53H401.7 M640.5 224.53H638.1 M399.3 217.02H401.7 M640.5 217.02H638.1 M399.3 209.51H403.9 M640.5 209.51H635.9 M399.3 202H401.7 M640.5 202H638.1 M399.3 194.49H401.7 M640.5 194.49H638.1 M399.3 186.98H401.7 M640.5 186.98H638.1" stroke-width="1.3" stroke-linecap="butt"/>
<rect x="399.3" y="185.7" width="241.2" height="234.1" stroke-width="1.8"/>
<path d="M429.3 419.8 L429.3 417.25 L439.35 417.25 L439.35 411.39 L449.4 411.39 L449.4 404.78 L459.45 404.78 L459.45 388.56 L469.5 388.56 L469.5 391.26 L479.55 391.26 L479.55 371.73 L489.6 371.73 L489.6 352.21 L499.65 352.21 L499.65 331.18 L509.7 331.18 L509.7 275.6 L519.75 275.6 L519.75 260.58 L529.8 260.58 L529.8 307.14 L539.85 307.14 L539.85 338.69 L549.9 338.69 L549.9 370.23 L559.95 370.23 L559.95 401.77 L570 401.77 L570 417.25 L580.05 417.25 L580.05 414.24 L590.1 414.24 L590.1 419.8" stroke-width="1.3" stroke-linejoin="miter"/>
<path d="M428.44 417.34 L429.25 417.17 L430.06 417 L430.87 416.81 L431.67 416.62 L432.48 416.41 L433.29 416.19 L434.09 415.97 L434.9 415.73 L435.71 415.48 L436.52 415.21 L437.32 414.94 L438.13 414.65 L438.94 414.35 L439.74 414.03 L440.55 413.7 L441.36 413.35 L442.16 412.99 L442.97 412.62 L443.78 412.23 L444.59 411.82 L445.39 411.4 L446.2 410.96 L447.01 410.51 L447.81 410.03 L448.62 409.55 L449.43 409.04 L450.23 408.52 L451.04 407.98 L451.85 407.42 L452.66 406.84 L453.46 406.25 L454.27 405.64 L455.08 405.02 L455.88 404.37 L456.69 403.71 L457.5 403.03 L458.3 402.34 L459.11 401.63 L459.92 400.9 L460.73 400.16 L461.53 399.41 L462.34 398.64 L463.15 397.85 L463.95 397.05 L464.76 396.24 L465.57 395.42 L466.37 394.58 L467.18 393.74 L467.99 392.88 L468.8 392.02 L469.6 391.15 L470.41 390.27 L471.22 389.38 L472.02 388.49 L472.83 387.6 L473.64 386.7 L474.44 385.8 L475.25 384.9 L476.06 384 L476.87 383.11 L477.67 382.22 L478.48 381.33 L479.29 380.45 L480.09 379.57 L480.9 378.71 L481.71 377.85 L482.52 377.01 L483.32 376.18 L484.13 375.37 L484.94 374.57 L485.74 373.78 L486.55 373.02 L487.36 372.28 L488.16 371.56 L488.97 370.86 L489.78 370.18 L490.59 369.53 L491.39 368.91 L492.2 368.31 L493.01 367.75 L493.81 367.21 L494.62 366.7 L495.43 366.23 L496.23 365.79 L497.04 365.38 L497.85 365.01 L498.66 364.67 L499.46 364.37 L500.27 364.11 L501.08 363.88 L501.88 363.7 L502.69 363.54 L503.5 363.43 L504.3 363.36 L505.11 363.32 L505.92 363.33 L506.73 363.37 L507.53 363.45 L508.34 363.57 L509.15 363.73 L509.95 363.93 L510.76 364.16 L511.57 364.44 L512.37 364.74 L513.18 365.09 L513.99 365.47 L514.8 365.88 L515.6 366.33 L516.41 366.81 L517.22 367.32 L518.02 367.87 L518.83 368.44 L519.64 369.04 L520.44 369.67 L521.25 370.32 L522.06 371 L522.87 371.71 L523.67 372.44 L524.48 373.18 L525.29 373.95 L526.09 374.74 L526.9 375.54 L527.71 376.36 L528.51 377.19 L529.32 378.04 L530.13 378.89 L530.94 379.76 L531.74 380.64 L532.55 381.52 L533.36 382.41 L534.16 383.3 L534.97 384.2 L535.78 385.1 L536.59 385.99 L537.39 386.89 L538.2 387.79 L539.01 388.68 L539.81 389.57 L540.62 390.46 L541.43 391.33 L542.23 392.2 L543.04 393.07 L543.85 393.92 L544.66 394.76 L545.46 395.6 L546.27 396.42 L547.08 397.23 L547.88 398.02 L548.69 398.8 L549.5 399.57 L550.3 400.32 L551.11 401.06 L551.92 401.79 L552.73 402.49 L553.53 403.18 L554.34 403.86 L555.15 404.51 L555.95 405.15 L556.76 405.78 L557.57 406.38 L558.37 406.97 L559.18 407.54 L559.99 408.09 L560.8 408.63 L561.6 409.15 L562.41 409.65 L563.22 410.14 L564.02 410.6 L564.83 411.06 L565.64 411.49 L566.44 411.91 L567.25 412.31 L568.06 412.7 L568.87 413.07 L569.67 413.43 L570.48 413.77 L571.29 414.1 L572.09 414.41 L572.9 414.71 L573.71 415 L574.51 415.27 L575.32 415.53 L576.13 415.78 L576.94 416.02 L577.74 416.24 L578.55 416.46 L579.36 416.66 L580.16 416.85 L580.97 417.04 L581.78 417.21 L582.58 417.37 L583.39 417.53 L584.2 417.68 L585.01 417.81 L585.81 417.95 L586.62 418.07 L587.43 418.19 L588.23 418.3 L589.04 418.4 L589.85 418.5" stroke="#f00" stroke-width="2" stroke-linecap="butt"/>
<path d="M428.44 419.8 L429.25 419.8 L430.06 419.8 L430.87 419.8 L431.67 419.8 L432.48 419.8 L433.29 419.8 L434.09 419.8 L434.9 419.8 L435.71 419.8 L436.52 419.8 L437.32 419.8 L438.13 419.8 L438.94 419.8 L439.74 419.8 L440.55 419.8 L441.36 419.8 L442.16 419.8 L442.97 419.8 L443.78 419.8 L444.59 419.8 L445.39 419.8 L446.2 419.8 L447.01 419.8 L447.81 419.8 L448.62 419.8 L449.43 419.8 L450.23 419.8 L451.04 419.8 L451.85 419.8 L452.66 419.8 L453.46 419.8 L454.27 419.79 L455.08 419.79 L455.88 419.79 L456.69 419.79 L457.5 419.79 L458.3 419.78 L459.11 419.78 L459.92 419.78 L460.73 419.77 L461.53 419.76 L462.34 419.76 L463.15 419.75 L463.95 419.74 L464.76 419.72 L465.57 419.71 L466.37 419.69 L467.18 419.67 L467.99 419.64 L468.8 419.61 L469.6 419.57 L470.41 419.53 L471.22 419.48 L472.02 419.43 L472.83 419.36 L473.64 419.28 L474.44 419.2 L475.25 419.09 L476.06 418.98 L476.87 418.84 L477.67 418.69 L478.48 418.52 L479.29 418.32 L480.09 418.09 L480.9 417.84 L481.71 417.55 L482.52 417.22 L483.32 416.86 L484.13 416.45 L484.94 416 L485.74 415.5 L486.55 414.94 L487.36 414.32 L488.16 413.63 L488.97 412.88 L489.78 412.05 L490.59 411.15 L491.39 410.16 L492.2 409.09 L493.01 407.92 L493.81 406.66 L494.62 405.31 L495.43 403.85 L496.23 402.28 L497.04 400.61 L497.85 398.82 L498.66 396.93 L499.46 394.93 L500.27 392.81 L501.08 390.59 L501.88 388.26 L502.69 385.82 L503.5 383.28 L504.3 380.65 L505.11 377.93 L505.92 375.12 L506.73 372.24 L507.53 369.3 L508.34 366.31 L509.15 363.27 L509.95 360.2 L510.76 357.12 L511.57 354.03 L512.37 350.96 L513.18 347.92 L513.99 344.92 L514.8 341.98 L515.6 339.13 L516.41 336.36 L517.22 333.71 L518.02 331.19 L518.83 328.82 L519.64 326.6 L520.44 324.56 L521.25 322.7 L522.06 321.05 L522.87 319.61 L523.67 318.39 L524.48 317.41 L525.29 316.66 L526.09 316.15 L526.9 315.89 L527.71 315.88 L528.51 316.12 L529.32 316.61 L530.13 317.34 L530.94 318.3 L531.74 319.5 L532.55 320.93 L533.36 322.56 L534.16 324.4 L534.97 326.43 L535.78 328.63 L536.59 331 L537.39 333.51 L538.2 336.15 L539.01 338.9 L539.81 341.75 L540.62 344.68 L541.43 347.67 L542.23 350.71 L543.04 353.78 L543.85 356.87 L544.66 359.95 L545.46 363.02 L546.27 366.06 L547.08 369.06 L547.88 372.01 L548.69 374.89 L549.5 377.7 L550.3 380.43 L551.11 383.07 L551.92 385.62 L552.73 388.06 L553.53 390.4 L554.34 392.64 L555.15 394.76 L555.95 396.77 L556.76 398.68 L557.57 400.47 L558.37 402.15 L559.18 403.72 L559.99 405.19 L560.8 406.56 L561.6 407.83 L562.41 409 L563.22 410.08 L564.02 411.07 L564.83 411.98 L565.64 412.81 L566.44 413.57 L567.25 414.26 L568.06 414.89 L568.87 415.45 L569.67 415.96 L570.48 416.42 L571.29 416.83 L572.09 417.2 L572.9 417.52 L573.71 417.81 L574.51 418.07 L575.32 418.3 L576.13 418.5 L576.94 418.68 L577.74 418.83 L578.55 418.97 L579.36 419.09 L580.16 419.19 L580.97 419.28 L581.78 419.36 L582.58 419.42 L583.39 419.48 L584.2 419.53 L585.01 419.57 L585.81 419.61 L586.62 419.64 L587.43 419.66 L588.23 419.69 L589.04 419.71 L589.85 419.72" stroke="#f00" stroke-width="2" stroke-linecap="butt"/>
<path d="M428.44 417.34 L429.25 417.17 L430.06 417 L430.87 416.81 L431.67 416.62 L432.48 416.41 L433.29 416.19 L434.09 415.97 L434.9 415.73 L435.71 415.48 L436.52 415.21 L437.32 414.94 L438.13 414.65 L438.94 414.35 L439.74 414.03 L440.55 413.7 L441.36 413.35 L442.16 412.99 L442.97 412.62 L443.78 412.23 L444.59 411.82 L445.39 411.4 L446.2 410.96 L447.01 410.5 L447.81 410.03 L448.62 409.54 L449.43 409.04 L450.23 408.51 L451.04 407.97 L451.85 407.42 L452.66 406.84 L453.46 406.25 L454.27 405.64 L455.08 405.01 L455.88 404.36 L456.69 403.7 L457.5 403.02 L458.3 402.32 L459.11 401.61 L459.92 400.88 L460.73 400.13 L461.53 399.37 L462.34 398.59 L463.15 397.8 L463.95 396.99 L464.76 396.16 L465.57 395.32 L466.37 394.47 L467.18 393.6 L467.99 392.72 L468.8 391.83 L469.6 390.92 L470.41 390 L471.22 389.06 L472.02 388.12 L472.83 387.16 L473.64 386.18 L474.44 385.2 L475.25 384.2 L476.06 383.18 L476.87 382.15 L477.67 381.11 L478.48 380.04 L479.29 378.96 L480.09 377.86 L480.9 376.74 L481.71 375.6 L482.52 374.43 L483.32 373.24 L484.13 372.02 L484.94 370.77 L485.74 369.48 L486.55 368.16 L487.36 366.79 L488.16 365.39 L488.97 363.93 L489.78 362.43 L490.59 360.88 L491.39 359.27 L492.2 357.6 L493.01 355.87 L493.81 354.07 L494.62 352.21 L495.43 350.28 L496.23 348.27 L497.04 346.19 L497.85 344.04 L498.66 341.81 L499.46 339.5 L500.27 337.12 L501.08 334.67 L501.88 332.15 L502.69 329.56 L503.5 326.91 L504.3 324.21 L505.11 321.45 L505.92 318.65 L506.73 315.82 L507.53 312.95 L508.34 310.08 L509.15 307.2 L509.95 304.33 L510.76 301.48 L511.57 298.67 L512.37 295.9 L513.18 293.2 L513.99 290.59 L514.8 288.06 L515.6 285.66 L516.41 283.37 L517.22 281.24 L518.02 279.26 L518.83 277.46 L519.64 275.84 L520.44 274.43 L521.25 273.23 L522.06 272.26 L522.87 271.52 L523.67 271.03 L524.48 270.79 L525.29 270.81 L526.09 271.09 L526.9 271.63 L527.71 272.44 L528.51 273.51 L529.32 274.84 L530.13 276.43 L530.94 278.26 L531.74 280.34 L532.55 282.65 L533.36 285.17 L534.16 287.9 L534.97 290.82 L535.78 293.93 L536.59 297.19 L537.39 300.6 L538.2 304.13 L539.01 307.78 L539.81 311.52 L540.62 315.33 L541.43 319.21 L542.23 323.12 L543.04 327.05 L543.85 330.99 L544.66 334.91 L545.46 338.82 L546.27 342.68 L547.08 346.49 L547.88 350.23 L548.69 353.89 L549.5 357.47 L550.3 360.96 L551.11 364.33 L551.92 367.6 L552.73 370.75 L553.53 373.79 L554.34 376.69 L555.15 379.47 L555.95 382.13 L556.76 384.65 L557.57 387.05 L558.37 389.32 L559.18 391.46 L559.99 393.49 L560.8 395.39 L561.6 397.18 L562.41 398.85 L563.22 400.41 L564.02 401.88 L564.83 403.24 L565.64 404.51 L566.44 405.68 L567.25 406.78 L568.06 407.79 L568.87 408.72 L569.67 409.59 L570.48 410.39 L571.29 411.13 L572.09 411.81 L572.9 412.43 L573.71 413.01 L574.51 413.54 L575.32 414.03 L576.13 414.48 L576.94 414.89 L577.74 415.27 L578.55 415.62 L579.36 415.95 L580.16 416.24 L580.97 416.51 L581.78 416.76 L582.58 417 L583.39 417.21 L584.2 417.41 L585.01 417.59 L585.81 417.75 L586.62 417.91 L587.43 418.05 L588.23 418.18 L589.04 418.3 L589.85 418.42" stroke="#00f" stroke-width="2" stroke-linecap="butt"/>
<path d="M383.89 434.61 L390.82 434.61 M398.52 430.97 L398.13 430.2 L396.98 429.81 L396.21 429.81 L395.05 430.2 L394.28 431.35 L393.9 433.28 L393.9 435.2 L394.28 436.75 L395.05 437.51 L396.21 437.9 L396.59 437.9 L397.75 437.51 L398.52 436.75 L398.9 435.59 L398.9 435.2 L398.52 434.05 L397.75 433.28 L396.59 432.89 L396.21 432.89 L395.05 433.28 L394.28 434.05 L393.9 435.2 M403.52 429.81 L402.37 430.2 L401.6 431.35 L401.21 433.28 L401.21 434.44 L401.6 436.36 L402.37 437.51 L403.52 437.9 L404.29 437.9 L405.44 437.51 L406.22 436.36 L406.6 434.44 L406.6 433.28 L406.22 431.35 L405.44 430.2 L404.29 429.81 L403.52 429.81 M411.22 429.81 L410.06 430.2 L409.3 431.35 L408.91 433.28 L408.91 434.44 L409.3 436.36 L410.06 437.51 L411.22 437.9 L411.99 437.9 L413.14 437.51 L413.92 436.36 L414.3 434.44 L414.3 433.28 L413.92 431.35 L413.14 430.2 L411.99 429.81 L411.22 429.81" stroke-width="1.35"/>
<path d="M424.09 434.61 L431.02 434.61 M437.56 429.81 L433.71 435.2 L439.49 435.2 M437.56 429.81 L437.56 437.9 M443.72 429.81 L442.56 430.2 L441.8 431.35 L441.41 433.28 L441.41 434.44 L441.8 436.36 L442.56 437.51 L443.72 437.9 L444.49 437.9 L445.64 437.51 L446.42 436.36 L446.8 434.44 L446.8 433.28 L446.42 431.35 L445.64 430.2 L444.49 429.81 L443.72 429.81 M451.42 429.81 L450.26 430.2 L449.5 431.35 L449.11 433.28 L449.11 434.44 L449.5 436.36 L450.26 437.51 L451.42 437.9 L452.19 437.9 L453.34 437.51 L454.12 436.36 L454.5 434.44 L454.5 433.28 L454.12 431.35 L453.34 430.2 L452.19 429.81 L451.42 429.81" stroke-width="1.35"/>
<path d="M464.29 434.61 L471.22 434.61 M474.3 431.74 L474.3 431.35 L474.68 430.58 L475.06 430.2 L475.83 429.81 L477.38 429.81 L478.14 430.2 L478.53 430.58 L478.92 431.35 L478.92 432.12 L478.53 432.89 L477.76 434.05 L473.91 437.9 L479.3 437.9 M483.92 429.81 L482.76 430.2 L482 431.35 L481.61 433.28 L481.61 434.44 L482 436.36 L482.76 437.51 L483.92 437.9 L484.69 437.9 L485.84 437.51 L486.62 436.36 L487 434.44 L487 433.28 L486.62 431.35 L485.84 430.2 L484.69 429.81 L483.92 429.81 M491.62 429.81 L490.46 430.2 L489.69 431.35 L489.31 433.28 L489.31 434.44 L489.69 436.36 L490.46 437.51 L491.62 437.9 L492.39 437.9 L493.54 437.51 L494.31 436.36 L494.7 434.44 L494.7 433.28 L494.31 431.35 L493.54 430.2 L492.39 429.81 L491.62 429.81" stroke-width="1.35"/>
<path d="M519.12 429.81 L517.96 430.2 L517.19 431.35 L516.8 433.28 L516.8 434.44 L517.19 436.36 L517.96 437.51 L519.12 437.9 L519.88 437.9 L521.04 437.51 L521.81 436.36 L522.19 434.44 L522.19 433.28 L521.81 431.35 L521.04 430.2 L519.88 429.81 L519.12 429.81" stroke-width="1.35"/>
<path d="M549.69 431.74 L549.69 431.35 L550.08 430.58 L550.46 430.2 L551.23 429.81 L552.77 429.81 L553.54 430.2 L553.93 430.58 L554.31 431.35 L554.31 432.12 L553.93 432.89 L553.16 434.05 L549.31 437.9 L554.7 437.9 M559.32 429.81 L558.16 430.2 L557.39 431.35 L557.01 433.28 L557.01 434.44 L557.39 436.36 L558.16 437.51 L559.32 437.9 L560.09 437.9 L561.24 437.51 L562.01 436.36 L562.4 434.44 L562.4 433.28 L562.01 431.35 L561.24 430.2 L560.09 429.81 L559.32 429.81 M567.02 429.81 L565.86 430.2 L565.09 431.35 L564.71 433.28 L564.71 434.44 L565.09 436.36 L565.86 437.51 L567.02 437.9 L567.79 437.9 L568.94 437.51 L569.71 436.36 L570.1 434.44 L570.1 433.28 L569.71 431.35 L568.94 430.2 L567.79 429.81 L567.02 429.81" stroke-width="1.35"/>
<path d="M593.36 429.81 L589.5 435.2 L595.28 435.2 M593.36 429.81 L593.36 437.9 M599.52 429.81 L598.36 430.2 L597.59 431.35 L597.21 433.28 L597.21 434.44 L597.59 436.36 L598.36 437.51 L599.52 437.9 L600.29 437.9 L601.44 437.51 L602.21 436.36 L602.6 434.44 L602.6 433.28 L602.21 431.35 L601.44 430.2 L600.29 429.81 L599.52 429.81 M607.22 429.81 L606.06 430.2 L605.29 431.35 L604.91 433.28 L604.91 434.44 L605.29 436.36 L606.06 437.51 L607.22 437.9 L607.99 437.9 L609.14 437.51 L609.91 436.36 L610.3 434.44 L610.3 433.28 L609.91 431.35 L609.14 430.2 L607.99 429.81 L607.22 429.81" stroke-width="1.35"/>
<path d="M634.71 430.97 L634.33 430.2 L633.17 429.81 L632.4 429.81 L631.25 430.2 L630.48 431.35 L630.09 433.28 L630.09 435.2 L630.48 436.75 L631.25 437.51 L632.4 437.9 L632.79 437.9 L633.94 437.51 L634.71 436.75 L635.1 435.59 L635.1 435.2 L634.71 434.05 L633.94 433.28 L632.79 432.89 L632.4 432.89 L631.25 433.28 L630.48 434.05 L630.09 435.2 M639.72 429.81 L638.56 430.2 L637.79 431.35 L637.41 433.28 L637.41 434.44 L637.79 436.36 L638.56 437.51 L639.72 437.9 L640.49 437.9 L641.64 437.51 L642.41 436.36 L642.8 434.44 L642.8 433.28 L642.41 431.35 L641.64 430.2 L640.49 429.81 L639.72 429.81 M647.42 429.81 L646.26 430.2 L645.49 431.35 L645.11 433.28 L645.11 434.44 L645.49 436.36 L646.26 437.51 L647.42 437.9 L648.19 437.9 L649.34 437.51 L650.11 436.36 L650.5 434.44 L650.5 433.28 L650.11 431.35 L649.34 430.2 L648.19 429.81 L647.42 429.81" stroke-width="1.35"/>
<path d="M390.76 412.22 L389.61 412.6 L388.84 413.75 L388.45 415.68 L388.45 416.84 L388.84 418.76 L389.61 419.92 L390.76 420.3 L391.54 420.3 L392.69 419.92 L393.46 418.76 L393.85 416.84 L393.85 415.68 L393.46 413.75 L392.69 412.6 L391.54 412.22 L390.76 412.22" stroke-width="1.35"/>
<path d="M381.14 388.4 L381.14 388.01 L381.53 387.24 L381.91 386.86 L382.68 386.47 L384.22 386.47 L384.99 386.86 L385.38 387.24 L385.76 388.01 L385.76 388.78 L385.38 389.55 L384.61 390.71 L380.75 394.56 L386.15 394.56 M390.76 386.47 L389.61 386.86 L388.84 388.01 L388.45 389.94 L388.45 391.09 L388.84 393.02 L389.61 394.17 L390.76 394.56 L391.54 394.56 L392.69 394.17 L393.46 393.02 L393.85 391.09 L393.85 389.94 L393.46 388.01 L392.69 386.86 L391.54 386.47 L390.76 386.47" stroke-width="1.35"/>
<path d="M384.61 356.43 L380.75 361.82 L386.53 361.82 M384.61 356.43 L384.61 364.52 M390.76 356.43 L389.61 356.82 L388.84 357.97 L388.45 359.9 L388.45 361.05 L388.84 362.98 L389.61 364.13 L390.76 364.52 L391.54 364.52 L392.69 364.13 L393.46 362.98 L393.85 361.05 L393.85 359.9 L393.46 357.97 L392.69 356.82 L391.54 356.43 L390.76 356.43" stroke-width="1.35"/>
<path d="M385.76 327.54 L385.38 326.77 L384.22 326.39 L383.45 326.39 L382.3 326.77 L381.53 327.93 L381.14 329.85 L381.14 331.78 L381.53 333.32 L382.3 334.09 L383.45 334.47 L383.84 334.47 L384.99 334.09 L385.76 333.32 L386.15 332.16 L386.15 331.78 L385.76 330.62 L384.99 329.85 L383.84 329.47 L383.45 329.47 L382.3 329.85 L381.53 330.62 L381.14 331.78 M390.76 326.39 L389.61 326.77 L388.84 327.93 L388.45 329.85 L388.45 331.01 L388.84 332.93 L389.61 334.09 L390.76 334.47 L391.54 334.47 L392.69 334.09 L393.46 332.93 L393.85 331.01 L393.85 329.85 L393.46 327.93 L392.69 326.77 L391.54 326.39 L390.76 326.39" stroke-width="1.35"/>
<path d="M382.68 296.35 L381.53 296.73 L381.14 297.5 L381.14 298.27 L381.53 299.04 L382.3 299.43 L383.84 299.81 L384.99 300.2 L385.76 300.97 L386.15 301.74 L386.15 302.89 L385.76 303.66 L385.38 304.05 L384.22 304.43 L382.68 304.43 L381.53 304.05 L381.14 303.66 L380.75 302.89 L380.75 301.74 L381.14 300.97 L381.91 300.2 L383.06 299.81 L384.61 299.43 L385.38 299.04 L385.76 298.27 L385.76 297.5 L385.38 296.73 L384.22 296.35 L382.68 296.35 M390.76 296.35 L389.61 296.73 L388.84 297.89 L388.45 299.81 L388.45 300.97 L388.84 302.89 L389.61 304.05 L390.76 304.43 L391.54 304.43 L392.69 304.05 L393.46 302.89 L393.85 300.97 L393.85 299.81 L393.46 297.89 L392.69 296.73 L391.54 296.35 L390.76 296.35" stroke-width="1.35"/>
<path d="M374.21 267.85 L374.98 267.46 L376.13 266.31 L376.13 274.39 M383.06 266.31 L381.91 266.69 L381.14 267.85 L380.75 269.77 L380.75 270.93 L381.14 272.85 L381.91 274.01 L383.06 274.39 L383.83 274.39 L384.99 274.01 L385.76 272.85 L386.14 270.93 L386.14 269.77 L385.76 267.85 L384.99 266.69 L383.83 266.31 L383.06 266.31 M390.76 266.31 L389.61 266.69 L388.84 267.85 L388.45 269.77 L388.45 270.93 L388.84 272.85 L389.61 274.01 L390.76 274.39 L391.53 274.39 L392.69 274.01 L393.46 272.85 L393.84 270.93 L393.84 269.77 L393.46 267.85 L392.69 266.69 L391.53 266.31 L390.76 266.31" stroke-width="1.35"/>
<path d="M374.21 237.8 L374.98 237.42 L376.13 236.26 L376.13 244.35 M381.14 238.19 L381.14 237.8 L381.52 237.03 L381.91 236.65 L382.68 236.26 L384.22 236.26 L384.99 236.65 L385.37 237.03 L385.76 237.8 L385.76 238.57 L385.37 239.34 L384.6 240.5 L380.75 244.35 L386.14 244.35 M390.76 236.26 L389.61 236.65 L388.84 237.8 L388.45 239.73 L388.45 240.88 L388.84 242.81 L389.61 243.96 L390.76 244.35 L391.53 244.35 L392.69 243.96 L393.46 242.81 L393.84 240.88 L393.84 239.73 L393.46 237.8 L392.69 236.65 L391.53 236.26 L390.76 236.26" stroke-width="1.35"/>
<path d="M374.21 207.76 L374.98 207.38 L376.13 206.22 L376.13 214.31 M384.6 206.22 L380.75 211.61 L386.53 211.61 M384.6 206.22 L384.6 214.31 M390.76 206.22 L389.61 206.61 L388.84 207.76 L388.45 209.69 L388.45 210.84 L388.84 212.77 L389.61 213.92 L390.76 214.31 L391.53 214.31 L392.69 213.92 L393.46 212.77 L393.84 210.84 L393.84 209.69 L393.46 207.76 L392.69 206.61 L391.53 206.22 L390.76 206.22" stroke-width="1.35"/>
<path d="M471.38 169.75 L471.38 183 M471.38 169.75 L474.27 169.75 M471.38 183 L474.27 183 M477.17 171.84 L477.17 180.1 M477.17 171.84 L482.55 171.84 M477.17 175.77 L480.48 175.77 M484.21 176.95 L489.18 176.95 L489.18 176.17 L488.76 175.38 L488.35 174.99 L487.52 174.59 L486.28 174.59 L485.45 174.99 L484.62 175.77 L484.21 176.95 L484.21 177.74 L484.62 178.92 L485.45 179.71 L486.28 180.1 L487.52 180.1 L488.35 179.71 L489.18 178.92 M498.7 169.75 L491.25 183 M501.18 171.84 L501.18 180.1 M506.98 171.84 L506.98 180.1 M501.18 175.77 L506.98 175.77 M512.78 169.75 L512.78 183 M509.88 169.75 L512.78 169.75 M509.88 183 L512.78 183 M529.34 173.02 L522.71 176.56 L529.34 180.1 M539.27 176.56 L546.72 176.56 M550.04 173.48 L550.04 173.06 L550.45 172.23 L550.86 171.82 L551.69 171.41 L553.35 171.41 L554.18 171.82 L554.59 172.23 L555 173.06 L555 173.89 L554.59 174.72 L553.76 175.96 L549.62 180.1 L555.42 180.1 M558.73 179.31 L558.32 179.71 L558.73 180.1 L559.14 179.71 L558.73 179.31 M564.53 171.41 L563.28 171.82 L562.46 173.06 L562.04 175.13 L562.04 176.37 L562.46 178.44 L563.28 179.69 L564.53 180.1 L565.35 180.1 L566.6 179.69 L567.42 178.44 L567.84 176.37 L567.84 175.13 L567.42 173.06 L566.6 171.82 L565.35 171.41 L564.53 171.41" stroke-width="1.35"/>
<path d="M352.78 325.2 L360.6 325.2 M352.78 325.2 L360.6 319.71 M352.78 319.71 L360.6 319.71 M355.39 316.57 L359.11 316.57 L360.23 316.18 L360.6 315.4 L360.6 314.22 L360.23 313.44 L359.11 312.26 M355.39 312.26 L360.6 312.26 M355.39 309.13 L360.6 309.13 M356.88 309.13 L355.76 307.95 L355.39 307.17 L355.39 305.99 L355.76 305.21 L356.88 304.81 L360.6 304.81 M356.88 304.81 L355.76 303.64 L355.39 302.85 L355.39 301.68 L355.76 300.89 L356.88 300.5 L360.6 300.5 M352.78 297.37 L360.6 297.37 M356.5 297.37 L355.76 296.58 L355.39 295.8 L355.39 294.62 L355.76 293.84 L356.5 293.05 L357.62 292.66 L358.37 292.66 L359.48 293.05 L360.23 293.84 L360.6 294.62 L360.6 295.8 L360.23 296.58 L359.48 297.37 M357.62 290.31 L357.62 285.61 L356.88 285.61 L356.13 286 L355.76 286.39 L355.39 287.17 L355.39 288.35 L355.76 289.13 L356.5 289.92 L357.62 290.31 L358.37 290.31 L359.48 289.92 L360.23 289.13 L360.6 288.35 L360.6 287.17 L360.23 286.39 L359.48 285.61 M355.39 282.86 L360.6 282.86 M357.62 282.86 L356.5 282.47 L355.76 281.69 L355.39 280.9 L355.39 279.73" stroke-width="1.35"/>
<path d="M481.58 445.52 L484.66 453.2 M487.75 445.52 L484.66 453.2" stroke-width="1.35"/>
<path d="M494.06 452.72 L491.69 463.23 M494.45 452.72 L491.29 463.23 M492.48 455.35 L490.9 455.72 L490.11 456.47 L489.71 457.6 L489.71 458.72 L490.11 459.47 L490.9 460.22 L492.08 460.6 L493.27 460.6 L494.85 460.22 L495.64 459.47 L496.03 458.35 L496.03 457.22 L495.64 456.47 L494.85 455.72 L493.66 455.35 L492.48 455.35 M492.48 455.35 L491.29 455.72 L490.5 456.47 L490.11 457.6 L490.11 458.72 L490.5 459.47 L491.29 460.22 L492.08 460.6 M493.27 460.6 L494.45 460.22 L495.24 459.47 L495.64 458.35 L495.64 457.22 L495.24 456.47 L494.45 455.72 L493.66 455.35" stroke-width="1.45"/>
<path d="M507.92 443.57 L507.14 444.34 L506.38 445.5 L505.61 447.04 L505.22 448.96 L505.22 450.5 L505.61 452.43 L506.38 453.97 L507.14 455.12 L507.92 455.89 M510.61 445.52 L510.61 453.2 M514.46 448.08 L510.61 451.74 M512.15 450.27 L514.85 453.2 M517.15 448.08 L517.15 453.2 M517.15 449.54 L518.31 448.45 L519.08 448.08 L520.24 448.08 L521 448.45 L521.39 449.54 L521.39 453.2 M521.39 449.54 L522.54 448.45 L523.32 448.08 L524.47 448.08 L525.24 448.45 L525.62 449.54 L525.62 453.2" stroke-width="1.35"/>
<path d="M539.81 449.18 L539.43 448.45 L538.27 448.08 L537.12 448.08 L535.96 448.45 L535.58 449.18 L535.96 449.91 L536.73 450.27 L538.66 450.64 L539.43 451.01 L539.81 451.74 L539.81 452.1 L539.43 452.83 L538.27 453.2 L537.12 453.2 L535.96 452.83 L535.58 452.1" stroke-width="1.35"/>
<path d="M542.17 445.88 L546.22 445.88 M548.47 443.98 L548.92 443.75 L549.59 443.07 L549.59 447.8" stroke-width="1"/>
<path d="M553.37 443.57 L554.14 444.34 L554.91 445.5 L555.68 447.04 L556.07 448.96 L556.07 450.5 L555.68 452.43 L554.91 453.97 L554.14 455.12 L553.37 455.89" stroke-width="1.35"/>
<path d="M414.8 202.95H453" stroke="#f00" stroke-width="2.1" stroke-linecap="butt"/>
<path d="M414.8 212.95H453" stroke="#00f" stroke-width="2.1" stroke-linecap="butt"/>
<path d="M464.33 200.01 L464 199.37 L463.32 198.73 L462.66 198.42 L461.31 198.42 L460.65 198.73 L459.98 199.37 L459.64 200.01 L459.31 200.96 L459.31 202.55 L459.64 203.51 L459.98 204.15 L460.65 204.78 L461.31 205.1 L462.66 205.1 L463.32 204.78 L464 204.15 L464.33 203.51 M468.02 200.64 L467.35 200.96 L466.68 201.6 L466.34 202.55 L466.34 203.19 L466.68 204.15 L467.35 204.78 L468.02 205.1 L469.02 205.1 L469.69 204.78 L470.36 204.15 L470.7 203.19 L470.7 202.55 L470.36 201.6 L469.69 200.96 L469.02 200.64 L468.02 200.64 M473.04 200.64 L473.04 205.1 M473.04 201.92 L474.05 200.96 L474.72 200.64 L475.72 200.64 L476.39 200.96 L476.73 201.92 L476.73 205.1 M476.73 201.92 L477.73 200.96 L478.4 200.64 L479.41 200.64 L480.08 200.96 L480.41 201.92 L480.41 205.1 M483.09 200.64 L483.09 207.33 M483.09 201.6 L483.76 200.96 L484.43 200.64 L485.44 200.64 L486.11 200.96 L486.78 201.6 L487.11 202.55 L487.11 203.19 L486.78 204.15 L486.11 204.78 L485.44 205.1 L484.43 205.1 L483.76 204.78 L483.09 204.15 M490.8 200.64 L490.13 200.96 L489.46 201.6 L489.12 202.55 L489.12 203.19 L489.46 204.15 L490.13 204.78 L490.8 205.1 L491.8 205.1 L492.47 204.78 L493.14 204.15 L493.48 203.19 L493.48 202.55 L493.14 201.6 L492.47 200.96 L491.8 200.64 L490.8 200.64 M495.82 200.64 L495.82 205.1 M495.82 201.92 L496.83 200.96 L497.5 200.64 L498.5 200.64 L499.17 200.96 L499.51 201.92 L499.51 205.1 M501.85 202.55 L505.87 202.55 L505.87 201.92 L505.54 201.28 L505.2 200.96 L504.53 200.64 L503.53 200.64 L502.86 200.96 L502.19 201.6 L501.85 202.55 L501.85 203.19 L502.19 204.15 L502.86 204.78 L503.53 205.1 L504.53 205.1 L505.2 204.78 L505.87 204.15 M508.22 200.64 L508.22 205.1 M508.22 201.92 L509.22 200.96 L509.89 200.64 L510.9 200.64 L511.57 200.96 L511.9 201.92 L511.9 205.1 M514.91 198.42 L514.91 203.83 L515.25 204.78 L515.92 205.1 L516.59 205.1 M513.91 200.64 L516.25 200.64 M521.95 201.6 L521.62 200.96 L520.61 200.64 L519.61 200.64 L518.6 200.96 L518.26 201.6 L518.6 202.24 L519.27 202.55 L520.94 202.87 L521.62 203.19 L521.95 203.83 L521.95 204.15 L521.62 204.78 L520.61 205.1 L519.61 205.1 L518.6 204.78 L518.26 204.15" stroke-width="1.2"/>
<path d="M459.64 208.42 L459.64 215.1 M459.64 208.42 L462.32 215.1 M465 208.42 L462.32 215.1 M465 208.42 L465 215.1 M467.35 208.42 L467.68 208.73 L468.02 208.42 L467.68 208.1 L467.35 208.42 M467.68 210.64 L467.68 215.1 M470.03 210.64 L473.71 215.1 M473.71 210.64 L470.03 215.1 M476.39 208.42 L476.39 213.83 L476.73 214.78 L477.4 215.1 L478.07 215.1 M475.39 210.64 L477.73 210.64 M480.07 210.64 L480.07 213.83 L480.41 214.78 L481.08 215.1 L482.09 215.1 L482.75 214.78 L483.76 213.83 M483.76 210.64 L483.76 215.1 M486.44 210.64 L486.44 215.1 M486.44 212.55 L486.78 211.6 L487.45 210.96 L488.12 210.64 L489.12 210.64 M490.46 212.55 L494.48 212.55 L494.48 211.92 L494.15 211.28 L493.81 210.96 L493.14 210.64 L492.14 210.64 L491.47 210.96 L490.8 211.6 L490.46 212.55 L490.46 213.19 L490.8 214.15 L491.47 214.78 L492.14 215.1 L493.14 215.1 L493.81 214.78 L494.48 214.15" stroke-width="1.2"/>
<path d="M546.07 200.08 L541.07 207.2 M541.07 200.08 L546.07 200.08 M541.07 207.2 L546.07 207.2" stroke-width="1.35"/>
<path d="M548.57 208.05 L548.57 212.8 M548.57 209.41 L549.64 208.39 L550.35 208.05 L551.42 208.05 L552.14 208.39 L552.5 209.41 L552.5 212.8 M552.5 209.41 L553.57 208.39 L554.28 208.05 L555.35 208.05 L556.06 208.39 L556.42 209.41 L556.42 212.8 M563.21 208.05 L563.21 212.8 M563.21 209.07 L562.49 208.39 L561.78 208.05 L560.71 208.05 L559.99 208.39 L559.28 209.07 L558.92 210.09 L558.92 210.77 L559.28 211.78 L559.99 212.46 L560.71 212.8 L561.78 212.8 L562.49 212.46 L563.21 211.78 M565.7 208.05 L569.63 212.8 M569.63 208.05 L565.7 212.8" stroke-width="1.35"/>
<path d="M577.84 201.1 L583.55 204.15 L577.84 207.2 M596.05 199.7 L592.48 199.7 L592.12 202.92 L592.48 202.56 L593.55 202.2 L594.62 202.2 L595.69 202.56 L596.41 203.27 L596.76 204.34 L596.76 205.06 L596.41 206.13 L595.69 206.84 L594.62 207.2 L593.55 207.2 L592.48 206.84 L592.12 206.49 L591.76 205.77 M604.97 200.08 L604.97 207.2 M608.54 202.45 L604.97 205.84 M606.4 204.49 L608.9 207.2 M611.04 202.45 L611.04 209.57 M611.04 203.47 L611.76 202.79 L612.47 202.45 L613.54 202.45 L614.26 202.79 L614.97 203.47 L615.33 204.49 L615.33 205.17 L614.97 206.18 L614.26 206.86 L613.54 207.2 L612.47 207.2 L611.76 206.86 L611.04 206.18 M621.75 203.47 L621.04 202.79 L620.32 202.45 L619.25 202.45 L618.54 202.79 L617.83 203.47 L617.47 204.49 L617.47 205.17 L617.83 206.18 L618.54 206.86 L619.25 207.2 L620.32 207.2 L621.04 206.86 L621.75 206.18" stroke-width="1.35"/>
</g>
</svg>
</body></html>
